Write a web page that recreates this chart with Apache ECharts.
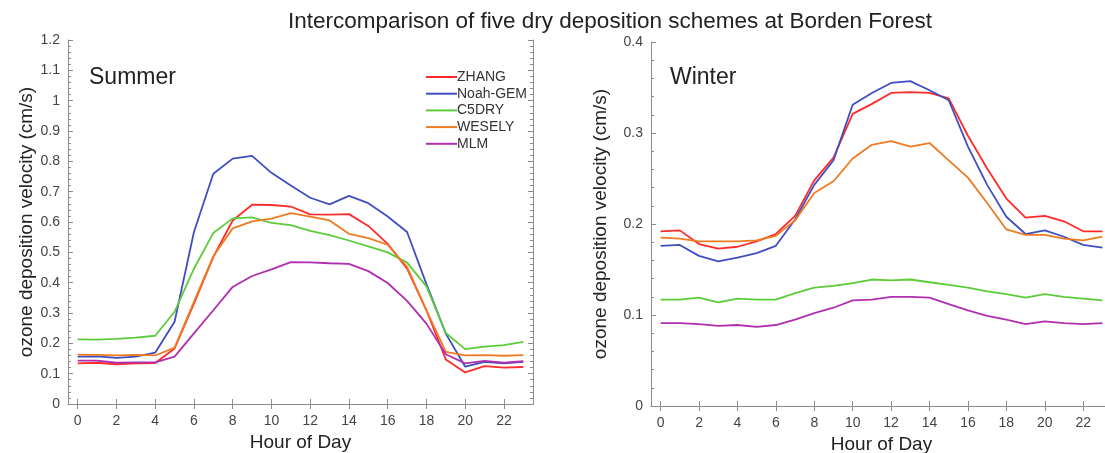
<!DOCTYPE html>
<html>
<head>
<meta charset="utf-8">
<script src="https://cdn.jsdelivr.net/npm/echarts@6/dist/echarts.min.js"></script>
<style>
html, body { margin: 0; padding: 0; background: #fff; }
#main { width: 1105px; height: 453px; }
</style>
</head>
<body>
<div id="main"></div>
<script>
// hour of day
var hours = [];
for (var h = 0; h < 24; h++) { hours.push(String(h)); }

var schemes = ['ZHANG', 'Noah-GEM', 'C5DRY', 'WESELY', 'MLM'];
var colors = ['#ff2a2a', '#3f4fbf', '#5ccc3a', '#ee7b22', '#b02fb0'];

// Summer
var summerZhang = [0.134, 0.136, 0.131, 0.134, 0.135, 0.183, 0.331, 0.485, 0.605, 0.657, 0.656, 0.651,
	0.625, 0.624, 0.626, 0.587, 0.528, 0.446, 0.309, 0.147, 0.104, 0.125, 0.120, 0.122];
var summerNoah = [0.156, 0.157, 0.152, 0.156, 0.169, 0.271, 0.567, 0.759, 0.809, 0.818, 0.762, 0.720,
	0.680, 0.658, 0.686, 0.662, 0.618, 0.567, 0.395, 0.232, 0.123, 0.139, 0.134, 0.139];
var summerC5dry = [0.213, 0.212, 0.215, 0.219, 0.225, 0.304, 0.446, 0.564, 0.612, 0.615, 0.597, 0.590,
	0.571, 0.557, 0.539, 0.520, 0.500, 0.466, 0.388, 0.234, 0.181, 0.189, 0.194, 0.205];
var summerWesely = [0.163, 0.162, 0.160, 0.162, 0.160, 0.186, 0.337, 0.487, 0.579, 0.602, 0.611, 0.629,
	0.618, 0.605, 0.561, 0.547, 0.525, 0.452, 0.309, 0.172, 0.160, 0.161, 0.159, 0.161];
var summerMlm = [0.143, 0.143, 0.136, 0.137, 0.137, 0.156, 0.233, 0.309, 0.386, 0.422, 0.444, 0.468,
	0.467, 0.464, 0.462, 0.438, 0.399, 0.340, 0.265, 0.164, 0.134, 0.142, 0.136, 0.141];

// Winter
var winterZhang = [0.192, 0.193, 0.178, 0.173, 0.175, 0.181, 0.189, 0.209, 0.248, 0.273, 0.321, 0.332,
	0.344, 0.345, 0.344, 0.338, 0.297, 0.261, 0.228, 0.207, 0.209, 0.203, 0.192, 0.192];
var winterNoah = [0.176, 0.177, 0.165, 0.159, 0.163, 0.168, 0.176, 0.205, 0.243, 0.270, 0.331, 0.344,
	0.355, 0.357, 0.347, 0.336, 0.285, 0.243, 0.208, 0.189, 0.193, 0.186, 0.177, 0.174];
var winterC5dry = [0.117, 0.117, 0.119, 0.114, 0.118, 0.117, 0.117, 0.124, 0.130, 0.132, 0.135, 0.139,
	0.138, 0.139, 0.136, 0.133, 0.130, 0.126, 0.123, 0.119, 0.123, 0.120, 0.118, 0.116];
var winterWesely = [0.185, 0.184, 0.181, 0.181, 0.181, 0.182, 0.187, 0.204, 0.234, 0.247, 0.272, 0.287,
	0.291, 0.285, 0.289, 0.270, 0.251, 0.223, 0.194, 0.188, 0.188, 0.184, 0.182, 0.186];
var winterMlm = [0.091, 0.091, 0.090, 0.088, 0.089, 0.087, 0.089, 0.095, 0.102, 0.108, 0.116, 0.117,
	0.120, 0.120, 0.119, 0.112, 0.105, 0.099, 0.095, 0.090, 0.093, 0.091, 0.090, 0.091];

var summerData = [summerZhang, summerNoah, summerC5dry, summerWesely, summerMlm];
var winterData = [winterZhang, winterNoah, winterC5dry, winterWesely, winterMlm];

var FONT = '"Liberation Sans", Arial, sans-serif';
var axisColor = '#8c8c8c';
var labelColor = '#444';

function xAxisOf(grid, bottom) {
	return {
		type: 'category',
		gridIndex: grid,
		position: bottom ? 'bottom' : 'top',
		data: hours,
		boundaryGap: true,
		name: bottom ? 'Hour of Day' : '',
		nameLocation: 'middle',
		nameGap: 29,
		nameTextStyle: { fontSize: 19, color: '#222', fontFamily: FONT },
		axisLine: { show: true, lineStyle: { color: axisColor } },
		axisTick: { show: true, inside: true, alignWithLabel: true, interval: 1, length: 5, lineStyle: { color: axisColor } },
		axisLabel: { show: bottom, interval: 1, fontSize: 14, color: labelColor, fontFamily: FONT, margin: 10 },
		splitLine: { show: false }
	};
}

function yAxisOf(grid, left, max) {
	return {
		type: 'value',
		gridIndex: grid,
		position: left ? 'left' : 'right',
		min: 0,
		max: max,
		interval: 0.1,
		name: left ? 'ozone deposition velocity (cm/s)' : '',
		nameLocation: 'middle',
		nameRotate: 90,
		nameGap: grid == 0 ? 30 : 41,
		nameTextStyle: { fontSize: 19, color: '#222', fontFamily: FONT },
		axisLine: { show: true, lineStyle: { color: axisColor } },
		axisTick: { show: true, inside: true, length: 5, lineStyle: { color: axisColor } },
		minorTick: { show: true, splitNumber: 5, length: 3, lineStyle: { color: axisColor } },
		axisLabel: { show: left, fontSize: 14, color: labelColor, fontFamily: FONT, margin: 8,
			formatter: function (v) { return String(Math.round(v * 10) / 10); } },
		splitLine: { show: false }
	};
}

var series = [];
schemes.forEach(function (name, i) {
	series.push({
		name: name, type: 'line', xAxisIndex: 0, yAxisIndex: 0,
		data: summerData[i], showSymbol: false, animation: false,
		lineStyle: { color: colors[i], width: 1.8 }, itemStyle: { color: colors[i] }
	});
});
schemes.forEach(function (name, i) {
	series.push({
		name: name, type: 'line', xAxisIndex: 2, yAxisIndex: 2,
		data: winterData[i], showSymbol: false, animation: false,
		lineStyle: { color: colors[i], width: 1.8 }, itemStyle: { color: colors[i] }
	});
});

var myChart = echarts.init(document.getElementById('main'));
var option = {
	backgroundColor: '#fff',
	animation: false,
	title: {
		text: 'Intercomparison of five dry deposition schemes at Borden Forest',
		left: 605, top: 5, textAlign: 'center',
		textStyle: { fontSize: 22.5, fontWeight: 'normal', color: '#222', fontFamily: FONT }
	},
	legend: {
		data: schemes,
		orient: 'vertical',
		left: 421, top: 65,
		itemWidth: 31, itemHeight: 2, itemGap: 2.7,
		icon: 'rect',
		textStyle: { fontSize: 14, color: '#333', fontFamily: FONT, padding: [0, 0, 0, -5] }
	},
	// grid 0: summer, grid 1: winter (its right edge runs past the page)
	grid: [
		{ left: 68, top: 40, width: 465, height: 364, outerBoundsMode: 'none' },
		{ left: 651, top: 42, width: 461, height: 364, outerBoundsMode: 'none' }
	],
	xAxis: [xAxisOf(0, true), xAxisOf(0, false), xAxisOf(1, true), xAxisOf(1, false)],
	yAxis: [yAxisOf(0, true, 1.2), yAxisOf(0, false, 1.2), yAxisOf(1, true, 0.4), yAxisOf(1, false, 0.4)],
	graphic: [
		{ type: 'text', left: 89, top: 66, style: { text: 'Summer', fontSize: 23, fill: '#222', fontFamily: FONT } },
		{ type: 'text', left: 670, top: 66, style: { text: 'Winter', fontSize: 23, fill: '#222', fontFamily: FONT } }
	],
	series: series
};
myChart.setOption(option);
</script>
</body>
</html>
